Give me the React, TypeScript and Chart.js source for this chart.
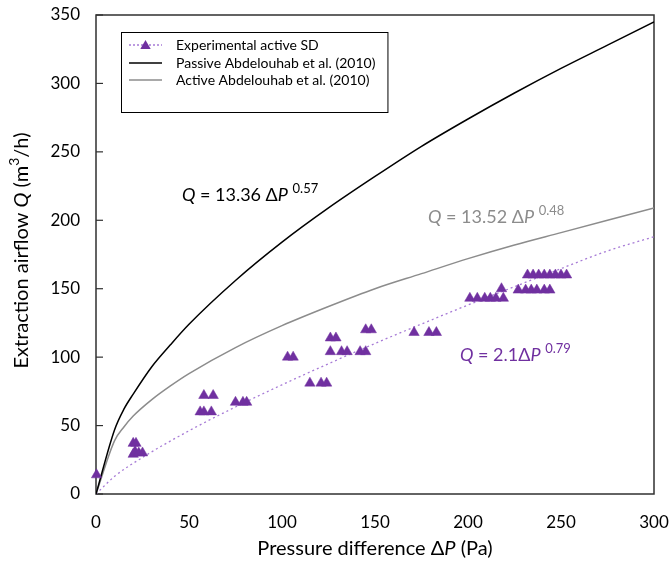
import React, { useEffect, useRef } from "react";
import { Chart, registerables } from "chart.js";
Chart.register(...registerables);

// ---------- data ----------
const expP = [0.3, 20, 21.5, 20, 21, 23, 25, 56, 58, 62, 58, 63, 75, 79, 81, 103, 106, 115, 121, 124,
  126, 132, 135, 142, 145, 126, 129, 145, 148, 171, 179, 183,
  201, 205, 209, 212, 215, 219, 218,
  227, 231, 234, 237, 241, 244,
  232, 235, 238, 241, 244, 247, 250, 253];
const expQ = [14, 37, 37, 29, 31, 30, 30, 60, 60, 60, 72, 72, 67, 67, 67, 100, 100, 81, 81, 81,
  104, 104, 104, 104, 104, 114, 114, 120, 120, 118, 118, 118,
  143, 143, 143, 143, 143, 143, 150,
  149, 149, 149, 149, 149, 149,
  160, 160, 160, 160, 160, 160, 160, 160];

const curveP = [0, 10, 15, 20, 30, 40, 50, 75, 100, 125, 150, 175, 200, 225, 250, 275, 300];
const passiveQ = [0, 47, 62, 73, 93, 109, 124, 156, 184, 209, 232, 254, 274, 293, 311, 328, 345];
const activeQ = [0, 39, 49, 57, 69, 79, 88, 107, 123, 137, 150, 161, 172, 182, 191, 200, 209];

const fitP = [0, 10, 25, 50, 75, 100, 125, 150, 175, 200, 225, 250, 275, 300];
const fitQ = [0, 12.9, 26.7, 46.2, 63.6, 79.8, 95.2, 110, 124.2, 138.1, 151.5, 164.7, 177.6, 188];

const xTicks = [0, 50, 100, 150, 200, 250, 300];
const yTicks = [0, 50, 100, 150, 200, 250, 300, 350];

const legendLabels = ["Experimental active SD", "Passive Abdelouhab et al. (2010)", "Active Abdelouhab et al. (2010)"];

// ---------- styles ----------
const FONT = "Lato";
const PURPLE = "#7030A0";
const PURPLE_LIGHT = "#A77BD6";
const GRAY = "#8C8C8C";
const AXIS = "#303030";

type Part = { t: string; i?: boolean; s?: boolean };

function fontOf(p: Part, size: number) {
  return `${p.i ? "italic " : ""}${p.s ? Math.round(size * 0.7) : size}px ${FONT}`;
}
function richWidth(ctx: CanvasRenderingContext2D, parts: Part[], size: number) {
  let w = 0;
  for (const p of parts) {
    ctx.font = fontOf(p, size);
    w += ctx.measureText(p.t).width;
  }
  return w;
}
function drawRich(ctx: CanvasRenderingContext2D, parts: Part[], x: number, y: number, size: number, color: string, align: "left" | "center") {
  ctx.save();
  ctx.fillStyle = color;
  ctx.textBaseline = "middle";
  ctx.textAlign = "left";
  let cx = align === "center" ? x - richWidth(ctx, parts, size) / 2 : x;
  for (const p of parts) {
    ctx.font = fontOf(p, size);
    ctx.fillText(p.t, cx, p.s ? y - size * 0.36 : y);
    cx += ctx.measureText(p.t).width;
  }
  ctx.restore();
}

const annotations: { px: number; q: number; color: string; parts: Part[] }[] = [
  { px: 46.2, q: 218.5, color: "#000000", parts: [{ t: "Q", i: true }, { t: " = 13.36 Δ" }, { t: "P", i: true }, { t: " " }, { t: "0.57", s: true }] },
  { px: 178.5, q: 202.4, color: GRAY, parts: [{ t: "Q", i: true }, { t: " = 13.52 Δ" }, { t: "P", i: true }, { t: " " }, { t: "0.48", s: true }] },
  { px: 195.7, q: 101.6, color: PURPLE, parts: [{ t: "Q", i: true }, { t: " = 2.1Δ" }, { t: "P", i: true }, { t: " " }, { t: "0.79", s: true }] },
];

function drawTriangle(ctx: CanvasRenderingContext2D, x: number, y: number, r: number) {
  ctx.beginPath();
  ctx.moveTo(x, y - r);
  ctx.lineTo(x + r * 0.866, y + r * 0.5);
  ctx.lineTo(x - r * 0.866, y + r * 0.5);
  ctx.closePath();
  ctx.fill();
}

const framePlugin = {
  id: "frame",
  beforeDatasetsDraw(chart: any) {
    const { ctx, chartArea: a, scales } = chart;
    ctx.save();
    ctx.strokeStyle = AXIS;
    ctx.lineWidth = 1.5;
    ctx.strokeRect(a.left, a.top, a.right - a.left, a.bottom - a.top);
    ctx.lineWidth = 1.2;
    for (const v of yTicks) {
      const y = scales.y.getPixelForValue(v);
      ctx.beginPath();
      ctx.moveTo(a.left, y);
      ctx.lineTo(a.left + 7, y);
      ctx.stroke();
    }
    ctx.restore();
  },
  afterDraw(chart: any) {
    const { ctx, chartArea: a, scales } = chart;
    // axis titles
    drawRich(ctx, [{ t: "Pressure difference Δ" }, { t: "P", i: true }, { t: " (Pa)" }], (a.left + a.right) / 2, 549, 20, "#000", "center");
    ctx.save();
    ctx.translate(22, (a.top + a.bottom) / 2 - 4);
    ctx.rotate(-Math.PI / 2);
    drawRich(ctx, [{ t: "Extraction airflow " }, { t: "Q", i: true }, { t: " (m" }, { t: "3", s: true }, { t: "/h)" }], 0, 0, 20, "#000", "center");
    ctx.restore();

    // equation annotations
    for (const an of annotations) {
      drawRich(ctx, an.parts, scales.x.getPixelForValue(an.px), scales.y.getPixelForValue(an.q), 18, an.color, "left");
    }

    // legend box
    const lx = 121, ly = 32, lh = 80;
    const rows = [45, 63, 80];
    const textX = 176;
    ctx.save();
    ctx.font = `14px ${FONT}`;
    let maxW = 0;
    for (const l of legendLabels) maxW = Math.max(maxW, ctx.measureText(l).width);
    const lw = textX + maxW + 12 - lx;
    ctx.fillStyle = "#fff";
    ctx.fillRect(lx, ly, lw, lh);
    ctx.strokeStyle = "#000";
    ctx.lineWidth = 1;
    ctx.strokeRect(lx + 0.5, ly + 0.5, lw, lh);
    // row 1
    ctx.strokeStyle = PURPLE_LIGHT;
    ctx.lineWidth = 1.3;
    ctx.setLineDash([2, 2]);
    ctx.beginPath();
    ctx.moveTo(129, rows[0]);
    ctx.lineTo(162, rows[0]);
    ctx.stroke();
    ctx.setLineDash([]);
    ctx.fillStyle = PURPLE;
    drawTriangle(ctx, 145.5, rows[0] + 1, 6);
    // row 2
    ctx.strokeStyle = "#000";
    ctx.lineWidth = 1.5;
    ctx.beginPath();
    ctx.moveTo(129, rows[1]);
    ctx.lineTo(162, rows[1]);
    ctx.stroke();
    // row 3
    ctx.strokeStyle = GRAY;
    ctx.beginPath();
    ctx.moveTo(129, rows[2]);
    ctx.lineTo(162, rows[2]);
    ctx.stroke();
    ctx.fillStyle = "#000";
    ctx.textBaseline = "middle";
    ctx.textAlign = "left";
    legendLabels.forEach((l, i) => ctx.fillText(l, textX, rows[i]));
    ctx.restore();
  },
};

export default function App() {
  const ref = useRef<HTMLCanvasElement | null>(null);
  useEffect(() => {
    document.body.style.margin = "0";
    const canvas = ref.current!;
    const chart = new Chart(canvas, {
      type: "scatter",
      data: {
        datasets: [
          {
            label: "Experimental active SD",
            data: expP.map((p, i) => ({ x: p, y: expQ[i] })),
            pointStyle: "triangle",
            pointRadius: 6,
            pointBackgroundColor: PURPLE,
            pointBorderColor: PURPLE,
            pointBorderWidth: 0.5,
            showLine: false,
            clip: false,
            order: 0,
          } as any,
          {
            label: "fit",
            data: fitP.map((p, i) => ({ x: p, y: fitQ[i] })),
            showLine: true,
            borderColor: PURPLE_LIGHT,
            borderWidth: 1.3,
            borderDash: [2, 3],
            pointRadius: 0,
            cubicInterpolationMode: "monotone",
            order: 3,
          } as any,
          {
            label: legendLabels[1],
            data: curveP.map((p, i) => ({ x: p, y: passiveQ[i] })),
            showLine: true,
            borderColor: "#000",
            borderWidth: 1.5,
            pointRadius: 0,
            cubicInterpolationMode: "monotone",
            order: 2,
          } as any,
          {
            label: legendLabels[2],
            data: curveP.map((p, i) => ({ x: p, y: activeQ[i] })),
            showLine: true,
            borderColor: GRAY,
            borderWidth: 1.5,
            pointRadius: 0,
            cubicInterpolationMode: "monotone",
            order: 2,
          } as any,
        ],
      },
      options: {
        animation: false,
        responsive: false,
        devicePixelRatio: 1,
        layout: { padding: { left: 0, right: 15, top: 15, bottom: 0 } },
        plugins: { legend: { display: false }, tooltip: { enabled: false } },
        scales: {
          x: {
            type: "linear",
            min: 0,
            max: 300,
            afterFit: (s: any) => { s.height = 76; s.paddingLeft = 0; s.paddingRight = 0; },
            afterBuildTicks: (s: any) => { s.ticks = xTicks.map((v) => ({ value: v })); },
            grid: { display: false, drawTicks: false },
            border: { display: false },
            ticks: { padding: 18, color: "#000", font: { family: FONT, size: 17 } },
          },
          y: {
            type: "linear",
            min: 0,
            max: 350,
            afterFit: (s: any) => { s.width = 96; s.paddingTop = 0; s.paddingBottom = 0; },
            afterBuildTicks: (s: any) => { s.ticks = yTicks.map((v) => ({ value: v })); },
            grid: { display: false, drawTicks: false },
            border: { display: false },
            ticks: { padding: 16, color: "#000", font: { family: FONT, size: 17 } },
          },
        },
      } as any,
      plugins: [framePlugin],
    });
    return () => chart.destroy();
  }, []);
  return (
    <div style={{ position: "absolute", left: 0, top: 0, width: 669, height: 570, background: "#fff" }}>
      <canvas ref={ref} width={669} height={570} style={{ width: 669, height: 570, display: "block" }} />
    </div>
  );
}
